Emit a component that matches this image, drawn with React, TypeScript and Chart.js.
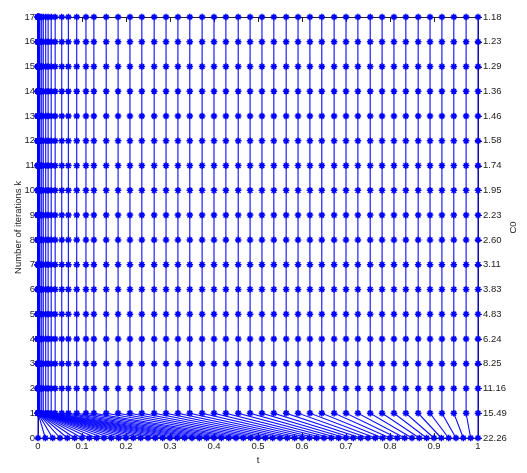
import React, { useEffect, useRef } from "react";
import { Chart, registerables } from "chart.js";

Chart.register(...registerables);

// iteration levels
const K_LEVELS = [0, 1, 2, 3, 4, 5, 6, 7, 8, 9, 10, 11, 12, 13, 14, 15, 16, 17];
// right-axis labels (C0) for each k level, from k=0 upward
const C0_LABELS = [
  "22.26", "15.49", "11.16", "8.25", "6.24", "4.83", "3.83", "3.11", "2.60",
  "2.23", "1.95", "1.74", "1.58", "1.46", "1.36", "1.29", "1.23", "1.18",
];
// x tick labels
const X_TICKS = ["0", "0.1", "0.2", "0.3", "0.4", "0.5", "0.6", "0.7", "0.8", "0.9", "1"];

// starting positions t at k = 0
const T_START = [
  0, 0.0167, 0.0333, 0.05, 0.0667, 0.0833, 0.1, 0.1167, 0.1333, 0.15,
  0.1667, 0.1833, 0.2, 0.2167, 0.2333, 0.25, 0.2667, 0.2833, 0.3, 0.3167,
  0.3333, 0.35, 0.3667, 0.3833, 0.4, 0.4167, 0.4333, 0.45, 0.4667, 0.4833,
  0.5, 0.5167, 0.5333, 0.55, 0.5667, 0.5833, 0.6, 0.6167, 0.6333, 0.65,
  0.6667, 0.6833, 0.7, 0.7167, 0.7333, 0.75, 0.7667, 0.7833, 0.8, 0.8167,
  0.8333, 0.85, 0.8667, 0.8833, 0.9, 0.9167, 0.9333, 0.95, 0.9667, 0.9833, 1,
];
// positions t for k >= 1 (each trajectory stays vertical afterwards)
const T_ITER = [
  0, 0.00001, 0.00003, 0.00005, 0.00008, 0.00012, 0.00018, 0.00025, 0.00035, 0.00045,
  0.0006, 0.0008, 0.001, 0.0013, 0.0018, 0.0024, 0.0032, 0.0045, 0.0084, 0.012,
  0.0175, 0.023, 0.03, 0.039, 0.054, 0.069, 0.088, 0.109, 0.127, 0.155,
  0.182, 0.209, 0.236, 0.264, 0.291, 0.318, 0.345, 0.373, 0.4, 0.427,
  0.455, 0.482, 0.509, 0.536, 0.564, 0.591, 0.618, 0.645, 0.673, 0.7,
  0.727, 0.755, 0.782, 0.809, 0.836, 0.864, 0.891, 0.918, 0.945, 0.973, 1,
];

const FONT = "'Liberation Sans', Arial, Helvetica, sans-serif";

const framePlugin = {
  id: "frame",
  beforeDatasetsDraw(chart: any) {
    const { ctx, chartArea } = chart;
    const { left, right, top, bottom } = chartArea;
    const xs = chart.scales.x;
    const ys = chart.scales.y;
    ctx.save();
    ctx.strokeStyle = "#222";
    ctx.lineWidth = 1;
    ctx.beginPath();
    ctx.moveTo(left, top + 0.5);
    ctx.lineTo(right, top + 0.5);
    ctx.moveTo(left, bottom + 0.5);
    ctx.lineTo(right, bottom + 0.5);
    ctx.moveTo(left + 0.5, top);
    ctx.lineTo(left + 0.5, bottom);
    ctx.moveTo(right + 0.5, top);
    ctx.lineTo(right + 0.5, bottom);
    X_TICKS.forEach((_, i) => {
      const px = Math.round(xs.getPixelForValue(i / 10)) + 0.5;
      ctx.moveTo(px, top);
      ctx.lineTo(px, top + 5);
      ctx.moveTo(px, bottom);
      ctx.lineTo(px, bottom - 5);
    });
    K_LEVELS.forEach((k) => {
      const py = Math.round(ys.getPixelForValue(k)) + 0.5;
      ctx.moveTo(left - 3, py);
      ctx.lineTo(left + 3, py);
      ctx.moveTo(right - 3, py);
      ctx.lineTo(right + 4, py);
    });
    ctx.stroke();
    ctx.restore();
  },
  afterDraw(chart: any) {
    const { ctx, chartArea } = chart;
    ctx.save();
    ctx.fillStyle = "#222";
    ctx.font = `9.5px ${FONT}`;
    ctx.textAlign = "center";
    ctx.textBaseline = "middle";
    ctx.translate(513, (chartArea.top + chartArea.bottom) / 2);
    ctx.rotate(-Math.PI / 2);
    ctx.fillText("C0", 0, 0);
    ctx.restore();
  },
};

export default function App() {
  const ref = useRef<HTMLCanvasElement | null>(null);

  useEffect(() => {
    if (!ref.current) return;
    const datasets = T_START.map((t0, i) => ({
      label: `traj ${i}`,
      data: K_LEVELS.map((k) => ({ x: k === 0 ? t0 : T_ITER[i], y: k })),
      borderColor: "rgba(0,0,255,0.95)",
      backgroundColor: "#0000ff",
      borderWidth: 1.1,
      pointStyle: "star",
      pointRadius: 3.3,
      pointBorderWidth: 1.5,
      pointBorderColor: "#0000ff",
      pointBackgroundColor: "#0000ff",
      tension: 0,
      clip: false as any,
    }));

    const tickFont = { family: FONT, size: 9.5 };
    const noGrid = { display: false, drawTicks: false, drawOnChartArea: false };
    const chart = new Chart(ref.current, {
      type: "line",
      data: { datasets },
      plugins: [framePlugin],
      options: {
        animation: false,
        responsive: false,
        events: [],
        layout: { padding: { top: 17, left: 0, right: 0, bottom: 0 } },
        plugins: { legend: { display: false }, tooltip: { enabled: false } },
        scales: {
          x: {
            type: "linear",
            position: "bottom",
            min: 0,
            max: 1,
            grid: noGrid,
            border: { display: false },
            ticks: {
              stepSize: 0.1,
              autoSkip: false,
              maxRotation: 0,
              padding: 3,
              color: "#222",
              font: tickFont,
              callback: (v: any) => X_TICKS[Math.round(Number(v) * 10)],
            },
            title: {
              display: true,
              text: "t",
              color: "#222",
              font: tickFont,
              padding: { top: 0, bottom: 7 },
            },
            afterFit: (s: any) => {
              s.height = 35;
            },
          },
          y: {
            type: "linear",
            position: "left",
            min: 0,
            max: 17,
            grid: noGrid,
            border: { display: false },
            ticks: {
              stepSize: 1,
              autoSkip: false,
              padding: 3,
              color: "#222",
              font: tickFont,
              callback: (v: any) => String(K_LEVELS[Math.round(Number(v))]),
            },
            title: {
              display: true,
              text: "Number of iterations k",
              color: "#222",
              font: tickFont,
              padding: { top: 13, bottom: 0 },
            },
            afterFit: (s: any) => {
              s.width = 38;
            },
          },
          y2: {
            type: "linear",
            position: "right",
            min: 0,
            max: 17,
            grid: noGrid,
            border: { display: false },
            ticks: {
              stepSize: 1,
              autoSkip: false,
              padding: 5,
              color: "#222",
              font: tickFont,
              callback: (v: any) => C0_LABELS[Math.round(Number(v))],
            },
            afterFit: (s: any) => {
              s.width = 49;
            },
          },
        },
      },
    });
    return () => chart.destroy();
  }, []);

  return (
    <div style={{ position: "absolute", left: 0, top: 0, width: 527, height: 473, background: "#fff" }}>
      <canvas ref={ref} width={527} height={473} style={{ display: "block" }} />
    </div>
  );
}
